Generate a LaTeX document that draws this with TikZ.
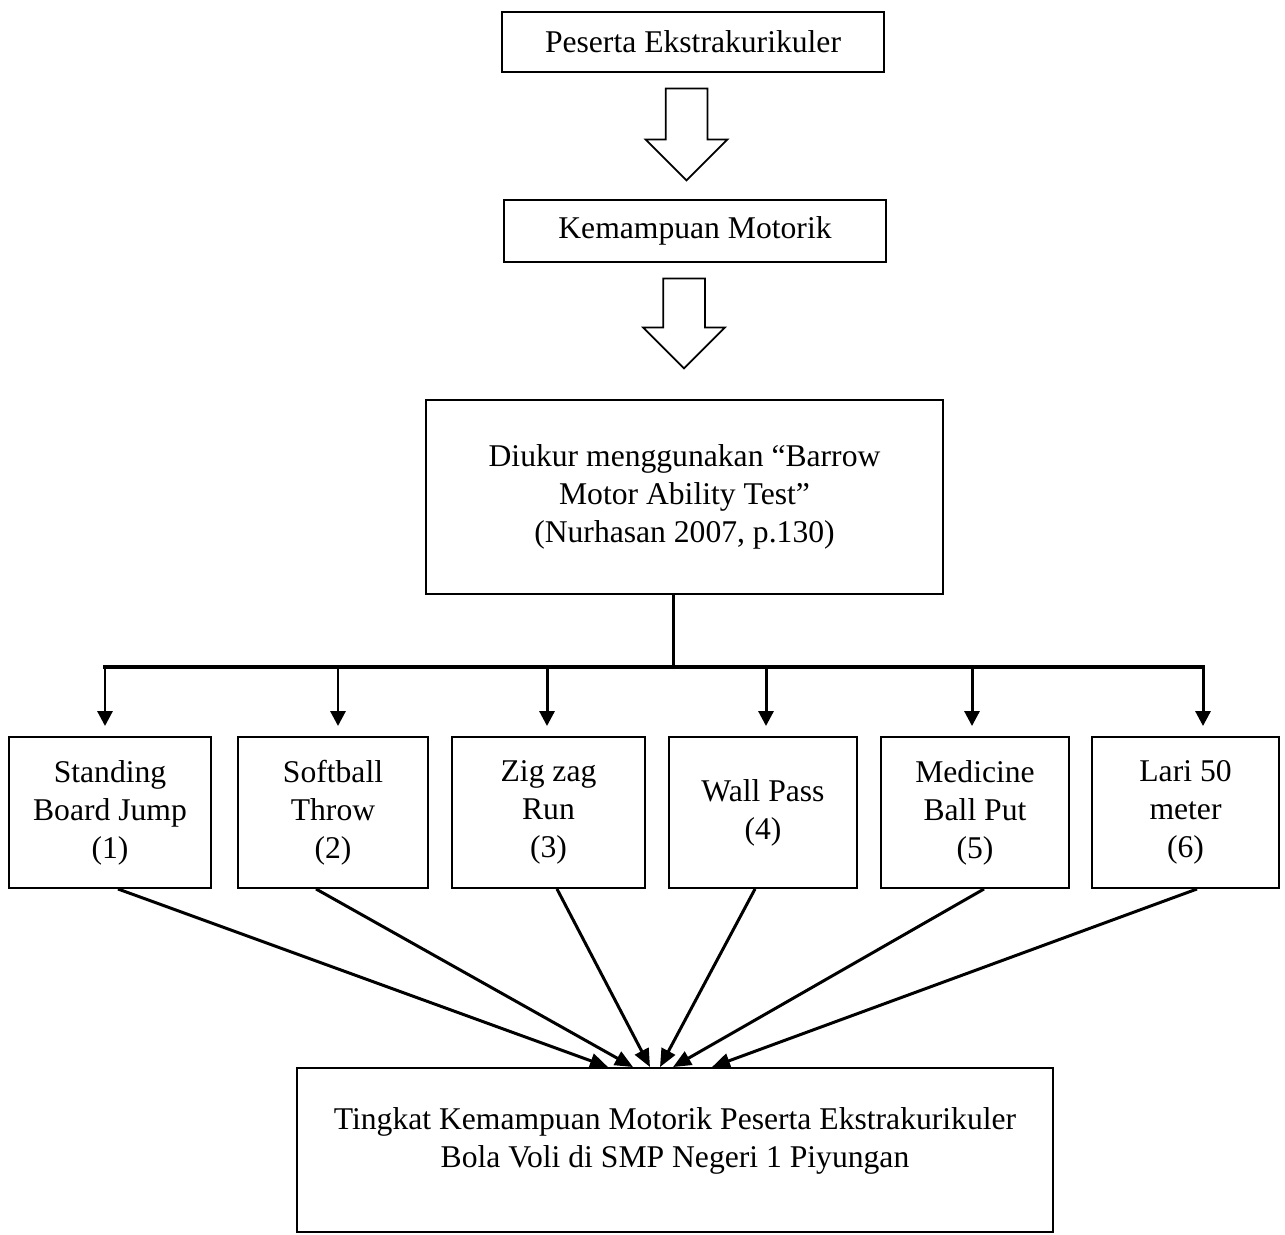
\documentclass[tikz,border=0pt]{standalone}
\usepackage{fontspec}
\setmainfont{Liberation Serif}
\usetikzlibrary{shapes.arrows, arrows.meta, positioning, calc}

\tikzset{
  box/.style={draw, line width=1.1pt, align=center, inner sep=0pt, font=\fontsize{18}{21.6}\selectfont},
  testbox/.style={box, minimum height=3.02cm},
  hollow/.style={single arrow, draw, line width=1pt, rotate=-90, minimum width=1.6cm, single arrow head extend=0.4cm, single arrow tip angle=90, inner xsep=0pt, inner ysep=0.4cm},
  drop/.style={-{Triangle[length=0.3cm, width=0.3cm]}, line width=1.7pt, shorten >=0.2cm},
  link/.style={-{Triangle[length=0.36cm, width=0.3cm]}, line width=1.7pt}
}

\begin{document}
\begin{tikzpicture}
  \useasboundingbox (0,0) rectangle (25.7,-24.68);

  % Top part
  \node[box, minimum width=7.64cm, minimum height=1.2cm] (peserta) at (13.86,-0.84) {Peserta Ekstrakurikuler};
  \node[hollow, minimum height=1.84cm] (arrow1) at (13.73,-2.48) {};
  \node[box, minimum width=7.64cm, minimum height=1.24cm] (motorik) at (13.90,-4.62) {Kemampuan Motorik};
  \node[hollow, minimum height=1.8cm] (arrow2) at (13.68,-6.26) {};
  \node[box, minimum width=10.34cm, minimum height=3.88cm] (diukur) at (13.69,-9.94) {Diukur menggunakan “Barrow\\Motor Ability Test”\\(Nurhasan 2007, p.130)};

  % Tests
  \node[testbox, minimum width=4.04cm] (t1) at (2.2,-16.25) {Standing\\Board Jump\\(1)};
  \node[testbox, minimum width=3.8cm] (t2) at (6.66,-16.25) {Softball\\Throw\\(2)};
  \node[testbox, minimum width=3.86cm] (t3) at (10.97,-16.25) {Zig zag\\Run\\(3)};
  \node[testbox, minimum width=3.76cm] (t4) at (15.26,-16.25) {Wall Pass\\(4)};
  \node[testbox, minimum width=3.76cm] (t5) at (19.5,-16.25) {Medicine\\Ball Put\\(5)};
  \node[testbox, minimum width=3.74cm] (t6) at (23.71,-16.25) {Lari 50\\meter\\(6)};

  % Split
  \coordinate (split) at (13.46,-13.34);
  \foreach \i/\x in {1/2.1, 2/6.76, 3/10.94, 4/15.32, 5/19.44, 6/24.06}
    \coordinate (d\i) at (\x,-13.34);
  \draw[line width=1.7pt] (diukur.south -| split) -- (split);
  \draw[line width=2.8pt, line cap=rect] (d1) -- (d6);
  \foreach \i in {1,...,6}
    \draw[drop] (d\i) -- (d\i |- t\i.north);

  % Result
  \node[draw, line width=1.1pt, minimum width=15.12cm, minimum height=3.28cm] (final) at (13.5,-23.0) {};
  \node[align=center, font=\fontsize{18}{21.6}\selectfont] (finaltext) at (13.5,-22.82) {Tingkat Kemampuan Motorik Peserta Ekstrakurikuler\\Bola Voli di SMP Negeri 1 Piyungan};

  \foreach \i/\s/\e in {1/0.16/-1.34, 2/-0.34/-0.84, 3/0.17/-0.5, 4/-0.16/-0.3, 5/0.18/-0.04, 6/0.23/0.74}
    \draw[link] ([xshift=\s cm]t\i.south) -- ([xshift=\e cm]final.north);
\end{tikzpicture}
\end{document}
